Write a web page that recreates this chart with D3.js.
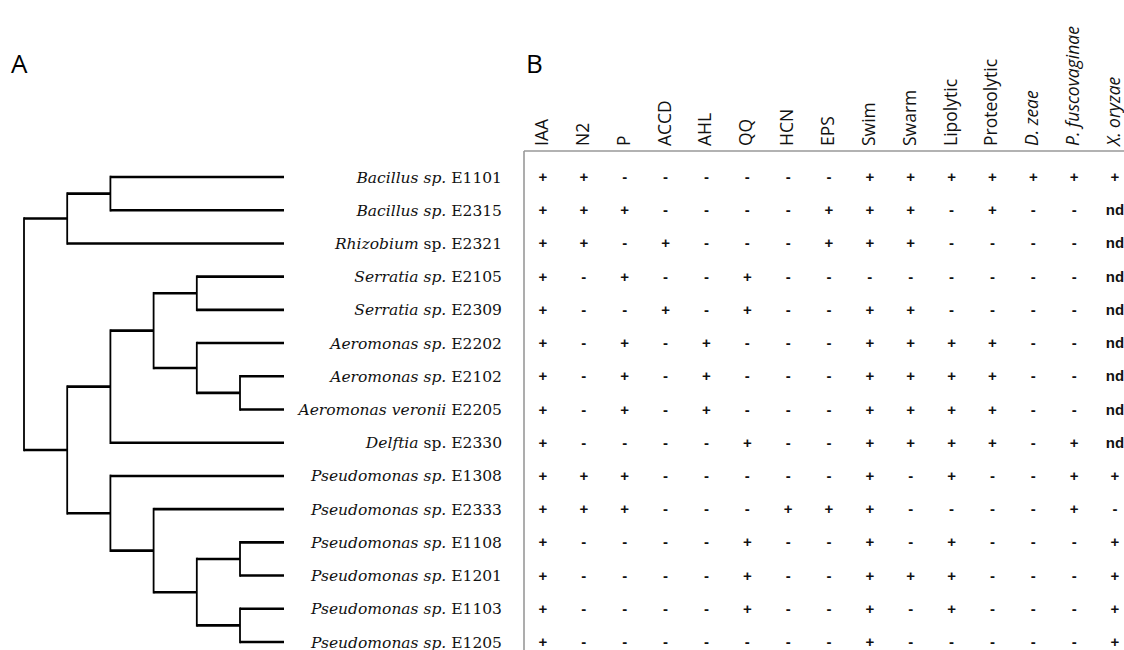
<!DOCTYPE html>
<html>
<head>
<meta charset="utf-8">
<script src="https://cdn.jsdelivr.net/npm/d3@7"></script>
<style>
  html, body { margin: 0; padding: 0; background: #fff; }
  svg { display: block; }
</style>
</head>
<body>
<svg id="chart" width="1124" height="650"></svg>
<script>
// Strain labels: italic part, then roman part
const labelItalic = [
  "Bacillus sp.", "Bacillus sp.", "Rhizobium", "Serratia sp.", "Serratia sp.",
  "Aeromonas sp.", "Aeromonas sp.", "Aeromonas veronii", "Delftia",
  "Pseudomonas sp.", "Pseudomonas sp.", "Pseudomonas sp.", "Pseudomonas sp.",
  "Pseudomonas sp.", "Pseudomonas sp."
];
const labelRoman = [
  "E1101", "E2315", "sp. E2321", "E2105", "E2309",
  "E2202", "E2102", "E2205", "sp. E2330",
  "E1308", "E2333", "E1108", "E1201", "E1103", "E1205"
];

// Dendrogram topology (leaf indices into the label arrays)
const tree = [[[0, 1], 2], [[[[3, 4], [5, [6, 7]]], 8], [9, [10, [[11, 12], [13, 14]]]]]];

// Trait columns
const traits = ["IAA", "N2", "P", "ACCD", "AHL", "QQ", "HCN", "EPS", "Swim", "Swarm",
  "Lipolytic", "Proteolytic", "D. zeae", "P. fuscovaginae", "X. oryzae"];
const italicTraits = ["D. zeae", "P. fuscovaginae", "X. oryzae"];

// Trait results per strain (same order as labels)
const results = [
  ["+","+","-","-","-","-","-","-","+","+","+","+","+","+","+"],
  ["+","+","+","-","-","-","-","+","+","+","-","+","-","-","nd"],
  ["+","+","-","+","-","-","-","+","+","+","-","-","-","-","nd"],
  ["+","-","+","-","-","+","-","-","-","-","-","-","-","-","nd"],
  ["+","-","-","+","-","+","-","-","+","+","-","-","-","-","nd"],
  ["+","-","+","-","+","-","-","-","+","+","+","+","-","-","nd"],
  ["+","-","+","-","+","-","-","-","+","+","+","+","-","-","nd"],
  ["+","-","+","-","+","-","-","-","+","+","+","+","-","-","nd"],
  ["+","-","-","-","-","+","-","-","+","+","+","+","-","+","nd"],
  ["+","+","+","-","-","-","-","-","+","-","+","-","-","+","+"],
  ["+","+","+","-","-","-","+","+","+","-","-","-","-","+","-"],
  ["+","-","-","-","-","+","-","-","+","-","+","-","-","-","+"],
  ["+","-","-","-","-","+","-","-","+","+","+","-","-","-","+"],
  ["+","-","-","-","-","+","-","-","+","-","+","-","-","-","+"],
  ["+","-","-","-","-","-","-","-","+","-","-","-","-","-","+"]
];

const svg = d3.select("#chart");
const rows = d3.range(labelItalic.length);

const y = d3.scalePoint().domain(rows).range([177, 642]);
const xCol = d3.scalePoint().domain(traits).range([543, 1115]);
const xDepth = d3.scaleLinear().domain([0, 5]).range([24, 240]);
const tipX = 284;

// ---- Panel labels ----
svg.append("text").attr("x", 11).attr("y", 73)
  .attr("font-family", "Open Sans, sans-serif").attr("font-size", 26)
  .attr("font-weight", 500)
  .text("A");
svg.append("text").attr("x", 526).attr("y", 73)
  .attr("font-family", "Open Sans, sans-serif").attr("font-size", 26)
  .attr("font-weight", 500)
  .text("B");

// ---- Dendrogram ----
const root = d3.hierarchy(tree, d => Array.isArray(d) ? d : null);
root.eachAfter(n => {
  if (n.children) {
    const c = n.children;
    n.py = (c[0].py + c[c.length - 1].py) / 2;
  } else {
    n.py = y(n.data);
  }
  n.px = xDepth(n.depth);
});

const gTree = svg.append("g").attr("stroke", "#000").attr("fill", "none");
// horizontal branches
gTree.selectAll("line.h")
  .data(root.descendants().filter(n => n.parent))
  .join("line")
  .attr("class", "h")
  .attr("x1", n => n.parent.px)
  .attr("x2", n => n.children ? n.px : tipX)
  .attr("y1", n => n.py).attr("y2", n => n.py)
  .attr("stroke-width", 2.6);
// vertical connectors
gTree.selectAll("line.v")
  .data(root.descendants().filter(n => n.children))
  .join("line")
  .attr("class", "v")
  .attr("x1", n => n.px).attr("x2", n => n.px)
  .attr("y1", n => n.children[0].py - 1.3)
  .attr("y2", n => n.children[n.children.length - 1].py + 1.3)
  .attr("stroke-width", 1.8);

// ---- Strain labels ----
const labels = svg.append("g")
  .attr("font-family", "DejaVu Serif, serif")
  .attr("font-size", 15.5)
  .attr("fill", "#111");
rows.forEach(i => {
  const t = labels.append("text")
    .attr("x", 502).attr("y", y(i) + 5.5)
    .attr("text-anchor", "end");
  t.append("tspan").attr("font-style", "italic").text(labelItalic[i]);
  t.append("tspan").text(" " + labelRoman[i]);
});

// ---- Table frame ----
svg.append("line").attr("x1", 524).attr("x2", 1124).attr("y1", 151).attr("y2", 151)
  .attr("stroke", "#999").attr("stroke-width", 1.6);
svg.append("line").attr("x1", 524).attr("x2", 524).attr("y1", 151).attr("y2", 650)
  .attr("stroke", "#999").attr("stroke-width", 1.6);

// ---- Column headers ----
svg.append("g")
  .attr("font-family", "Open Sans, sans-serif")
  .attr("font-size", 17.5)
  .attr("fill", "#111")
  .selectAll("text")
  .data(traits)
  .join("text")
  .attr("transform", d => `translate(${xCol(d) + 5},146) rotate(-90)`)
  .attr("font-style", d => italicTraits.includes(d) ? "italic" : "normal")
  .text(d => d);

// ---- Cells ----
const cells = svg.append("g")
  .attr("font-family", "Liberation Sans, Arial, sans-serif")
  .attr("font-weight", "bold")
  .attr("font-size", 15)
  .attr("fill", "#111")
  .attr("text-anchor", "middle");
results.forEach((row, i) => {
  row.forEach((v, j) => {
    cells.append("text")
      .attr("x", xCol(traits[j]))
      .attr("y", y(i) + 5)
      .text(v);
  });
});
</script>
</body>
</html>
